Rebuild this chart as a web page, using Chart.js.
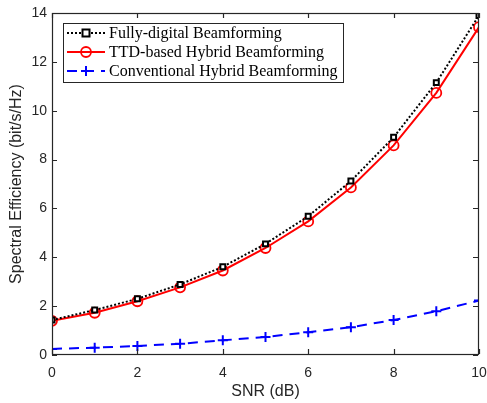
<!DOCTYPE html>
<html><head><meta charset="utf-8">
<script src="https://cdn.jsdelivr.net/npm/chart.js@4"></script>
<style>html,body{margin:0;padding:0;background:#fff}canvas{display:block}</style>
</head><body>
<canvas id="c" width="487" height="403"></canvas>
<script>
const snr = [0,1,2,3,4,5,6,7,8,9,10];
const fullyDigital = [1.43,1.84,2.30,2.89,3.61,4.55,5.68,7.12,8.91,11.15,13.90];
const ttdHybrid = [1.40,1.73,2.20,2.77,3.46,4.38,5.47,6.86,8.58,10.73,13.42];
const convHybrid = [0.25,0.30,0.37,0.46,0.60,0.74,0.93,1.14,1.43,1.79,2.23];
const labels = ['Fully-digital Beamforming','TTD-based Hybrid Beamforming','Conventional Hybrid Beamforming'];
const xTicks = [0,2,4,6,8,10];
const yTicks = [0,2,4,6,8,10,12,14];
const axisColor = '#262626';

const pts = a => a.map((v,i)=>({x:snr[i],y:v}));

const frame = {
  id:'frame',
  afterDraw(chart){
    const ctx = chart.ctx, a = chart.chartArea, x = chart.scales.x, y = chart.scales.y;
    const l=Math.round(a.left), r=Math.round(a.right)-1, t=Math.round(a.top), b=Math.round(a.bottom)-1;
    ctx.save();
    ctx.strokeStyle = axisColor; ctx.lineWidth = 1.2; ctx.setLineDash([]);
    ctx.strokeRect(l+0.5, t+0.5, r-l, b-t);
    const L = 5;
    ctx.beginPath();
    xTicks.forEach(v=>{const px=Math.round(x.getPixelForValue(v))+0.5;
      ctx.moveTo(px,b); ctx.lineTo(px,b-L); ctx.moveTo(px,t); ctx.lineTo(px,t+L);});
    yTicks.forEach(v=>{const py=Math.round(y.getPixelForValue(v))+0.5;
      ctx.moveTo(l,py); ctx.lineTo(l+L,py); ctx.moveTo(r,py); ctx.lineTo(r-L,py);});
    ctx.stroke();
    // legend
    const bx=63, by=23, bw=280, bh=59;
    ctx.fillStyle='#fff'; ctx.fillRect(bx,by,bw,bh);
    ctx.strokeStyle=axisColor; ctx.lineWidth=1; ctx.strokeRect(bx+0.5,by+0.5,bw,bh);
    const rows=[33,52,71];
    chart.data.datasets.forEach((ds,i)=>{
      const ry=rows[i], cx=86, rad=ds.pointRadius;
      ctx.save();
      ctx.strokeStyle=ds.borderColor; ctx.lineWidth=ds.borderWidth;
      ctx.setLineDash(ds.borderDash||[]);
      ctx.beginPath(); ctx.moveTo(67,ry); ctx.lineTo(105,ry); ctx.stroke();
      ctx.setLineDash([]);
      ctx.lineWidth=ds.pointBorderWidth; ctx.strokeStyle=ds.pointBorderColor; ctx.fillStyle=ds.pointBackgroundColor;
      ctx.beginPath();
      if(ds.pointStyle==='rect'){ctx.rect(cx-rad,ry-rad,rad*2,rad*2);ctx.fill();ctx.stroke();}
      else if(ds.pointStyle==='circle'){ctx.arc(cx,ry,rad,0,Math.PI*2);ctx.stroke();}
      else {ctx.moveTo(cx-rad,ry);ctx.lineTo(cx+rad,ry);ctx.moveTo(cx,ry-rad);ctx.lineTo(cx,ry+rad);ctx.stroke();}
      ctx.fillStyle='#000'; ctx.font='16px "Liberation Serif", "Times New Roman", serif';
      ctx.textBaseline='middle'; ctx.textAlign='left';
      ctx.fillText(ds.label,109,ry+1);
      ctx.restore();
    });
    ctx.restore();
  }
};

const sans = '"Liberation Sans", Arial, sans-serif';
new Chart(document.getElementById('c'),{
  type:'line',
  data:{datasets:[
    {label:labels[0],data:pts(fullyDigital),borderColor:'#000',borderWidth:2,borderDash:[2,2],
     pointStyle:'rect',pointRadius:3.5,pointBorderWidth:2,pointBorderColor:'#000',pointBackgroundColor:'#fff',fill:false,tension:0},
    {label:labels[1],data:pts(ttdHybrid),borderColor:'#ff0000',borderWidth:2,
     pointStyle:'circle',pointRadius:5,pointBorderWidth:1.8,pointBorderColor:'#ff0000',pointBackgroundColor:'rgba(0,0,0,0)',fill:false,tension:0},
    {label:labels[2],data:pts(convHybrid),borderColor:'#0000ff',borderWidth:2,borderDash:[10,7],
     pointStyle:'cross',pointRadius:5,pointBorderWidth:2,pointBorderColor:'#0000ff',pointBackgroundColor:'#0000ff',fill:false,tension:0}
  ]},
  options:{
    responsive:false,animation:false,
    layout:{padding:{top:13,right:8,left:0,bottom:0}},
    plugins:{legend:{display:false},tooltip:{enabled:false}},
    scales:{
      x:{type:'linear',min:0,max:10,
        afterFit:s=>{s.height=48;s.paddingLeft=0;s.paddingRight=0;},
        afterBuildTicks:s=>{s.ticks=xTicks.map(v=>({value:v}));},
        grid:{display:false,drawTicks:false},border:{display:false},
        ticks:{color:axisColor,font:{family:sans,size:14},padding:10,maxRotation:0},
        title:{display:true,text:'SNR (dB)',color:axisColor,font:{family:sans,size:16},padding:{top:0,bottom:2}}},
      y:{type:'linear',min:0,max:14,
        afterFit:s=>{s.width=52;s.paddingTop=0;s.paddingBottom=0;},
        afterBuildTicks:s=>{s.ticks=yTicks.map(v=>({value:v}));},
        grid:{display:false,drawTicks:false},border:{display:false},
        ticks:{color:axisColor,font:{family:sans,size:14},padding:5},
        title:{display:true,text:'Spectral Efficiency (bit/s/Hz)',color:axisColor,font:{family:sans,size:16},padding:{top:7,bottom:0}}}
    }
  },
  plugins:[frame]
});
</script>
</body></html>
